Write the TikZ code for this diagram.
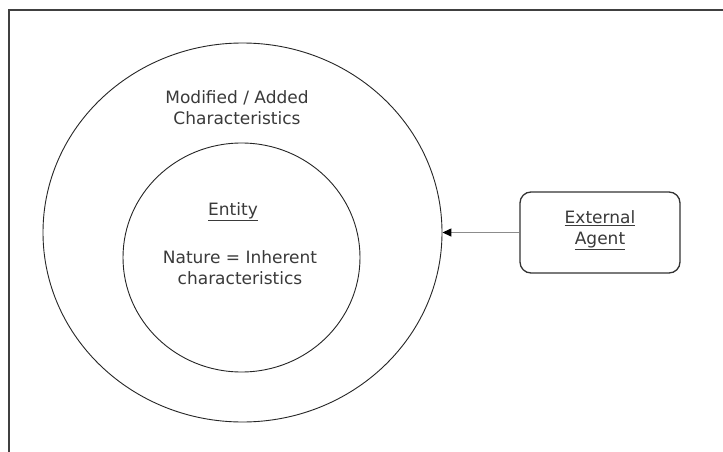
\documentclass[tikz,border=0pt]{standalone}
\usepackage{fontspec}
\setmainfont{DejaVu Sans}
\usetikzlibrary{shapes.geometric,arrows.meta}
\definecolor{txt}{HTML}{3A3A3A}
\tikzset{
  ring/.style={draw=black!85, line width=0.9pt, ellipse, inner sep=0pt},
  lbl/.style={text=txt, font=\fontsize{17}{21}\selectfont, align=center, inner sep=0pt},
  agentbox/.style={draw=black!80, line width=1.3pt, rounded corners=11pt, minimum width=160pt, minimum height=81pt, inner sep=0pt},
  link/.style={draw=black!45, line width=1.4pt, -{Triangle[black,length=9pt,width=8pt]}}
}
\begin{document}
\begin{tikzpicture}[x=1pt,y=1pt]
\useasboundingbox (0,0) rectangle (723,-452);
\clip (0,0) rectangle (723,-452);
\fill[white] (0,0) rectangle (723,-452);
\draw[black!75, line width=1.5pt] (9,-10) rectangle (760,-480);
\node[ring, minimum width=399pt, minimum height=379pt] (outer) at (242.5,-232.5) {};
\node[ring, minimum width=237pt, minimum height=229pt] (inner) at (241.5,-257.5) {};
\node[lbl] (mod) at (237,-108) {Modified / Added\\Characteristics};
\node[lbl] (ent) at (233,-212) {\underline{Entity}};
\node[lbl] (nat) at (240,-268) {Nature = Inherent\\characteristics};
\node[agentbox] (agent) at (600,-232.5) {};
\node[lbl] (agtxt) at (600,-230) {\underline{External}\\\underline{Agent}};
\draw[link] (agent.west) -- (outer.east);
\end{tikzpicture}
\end{document}
